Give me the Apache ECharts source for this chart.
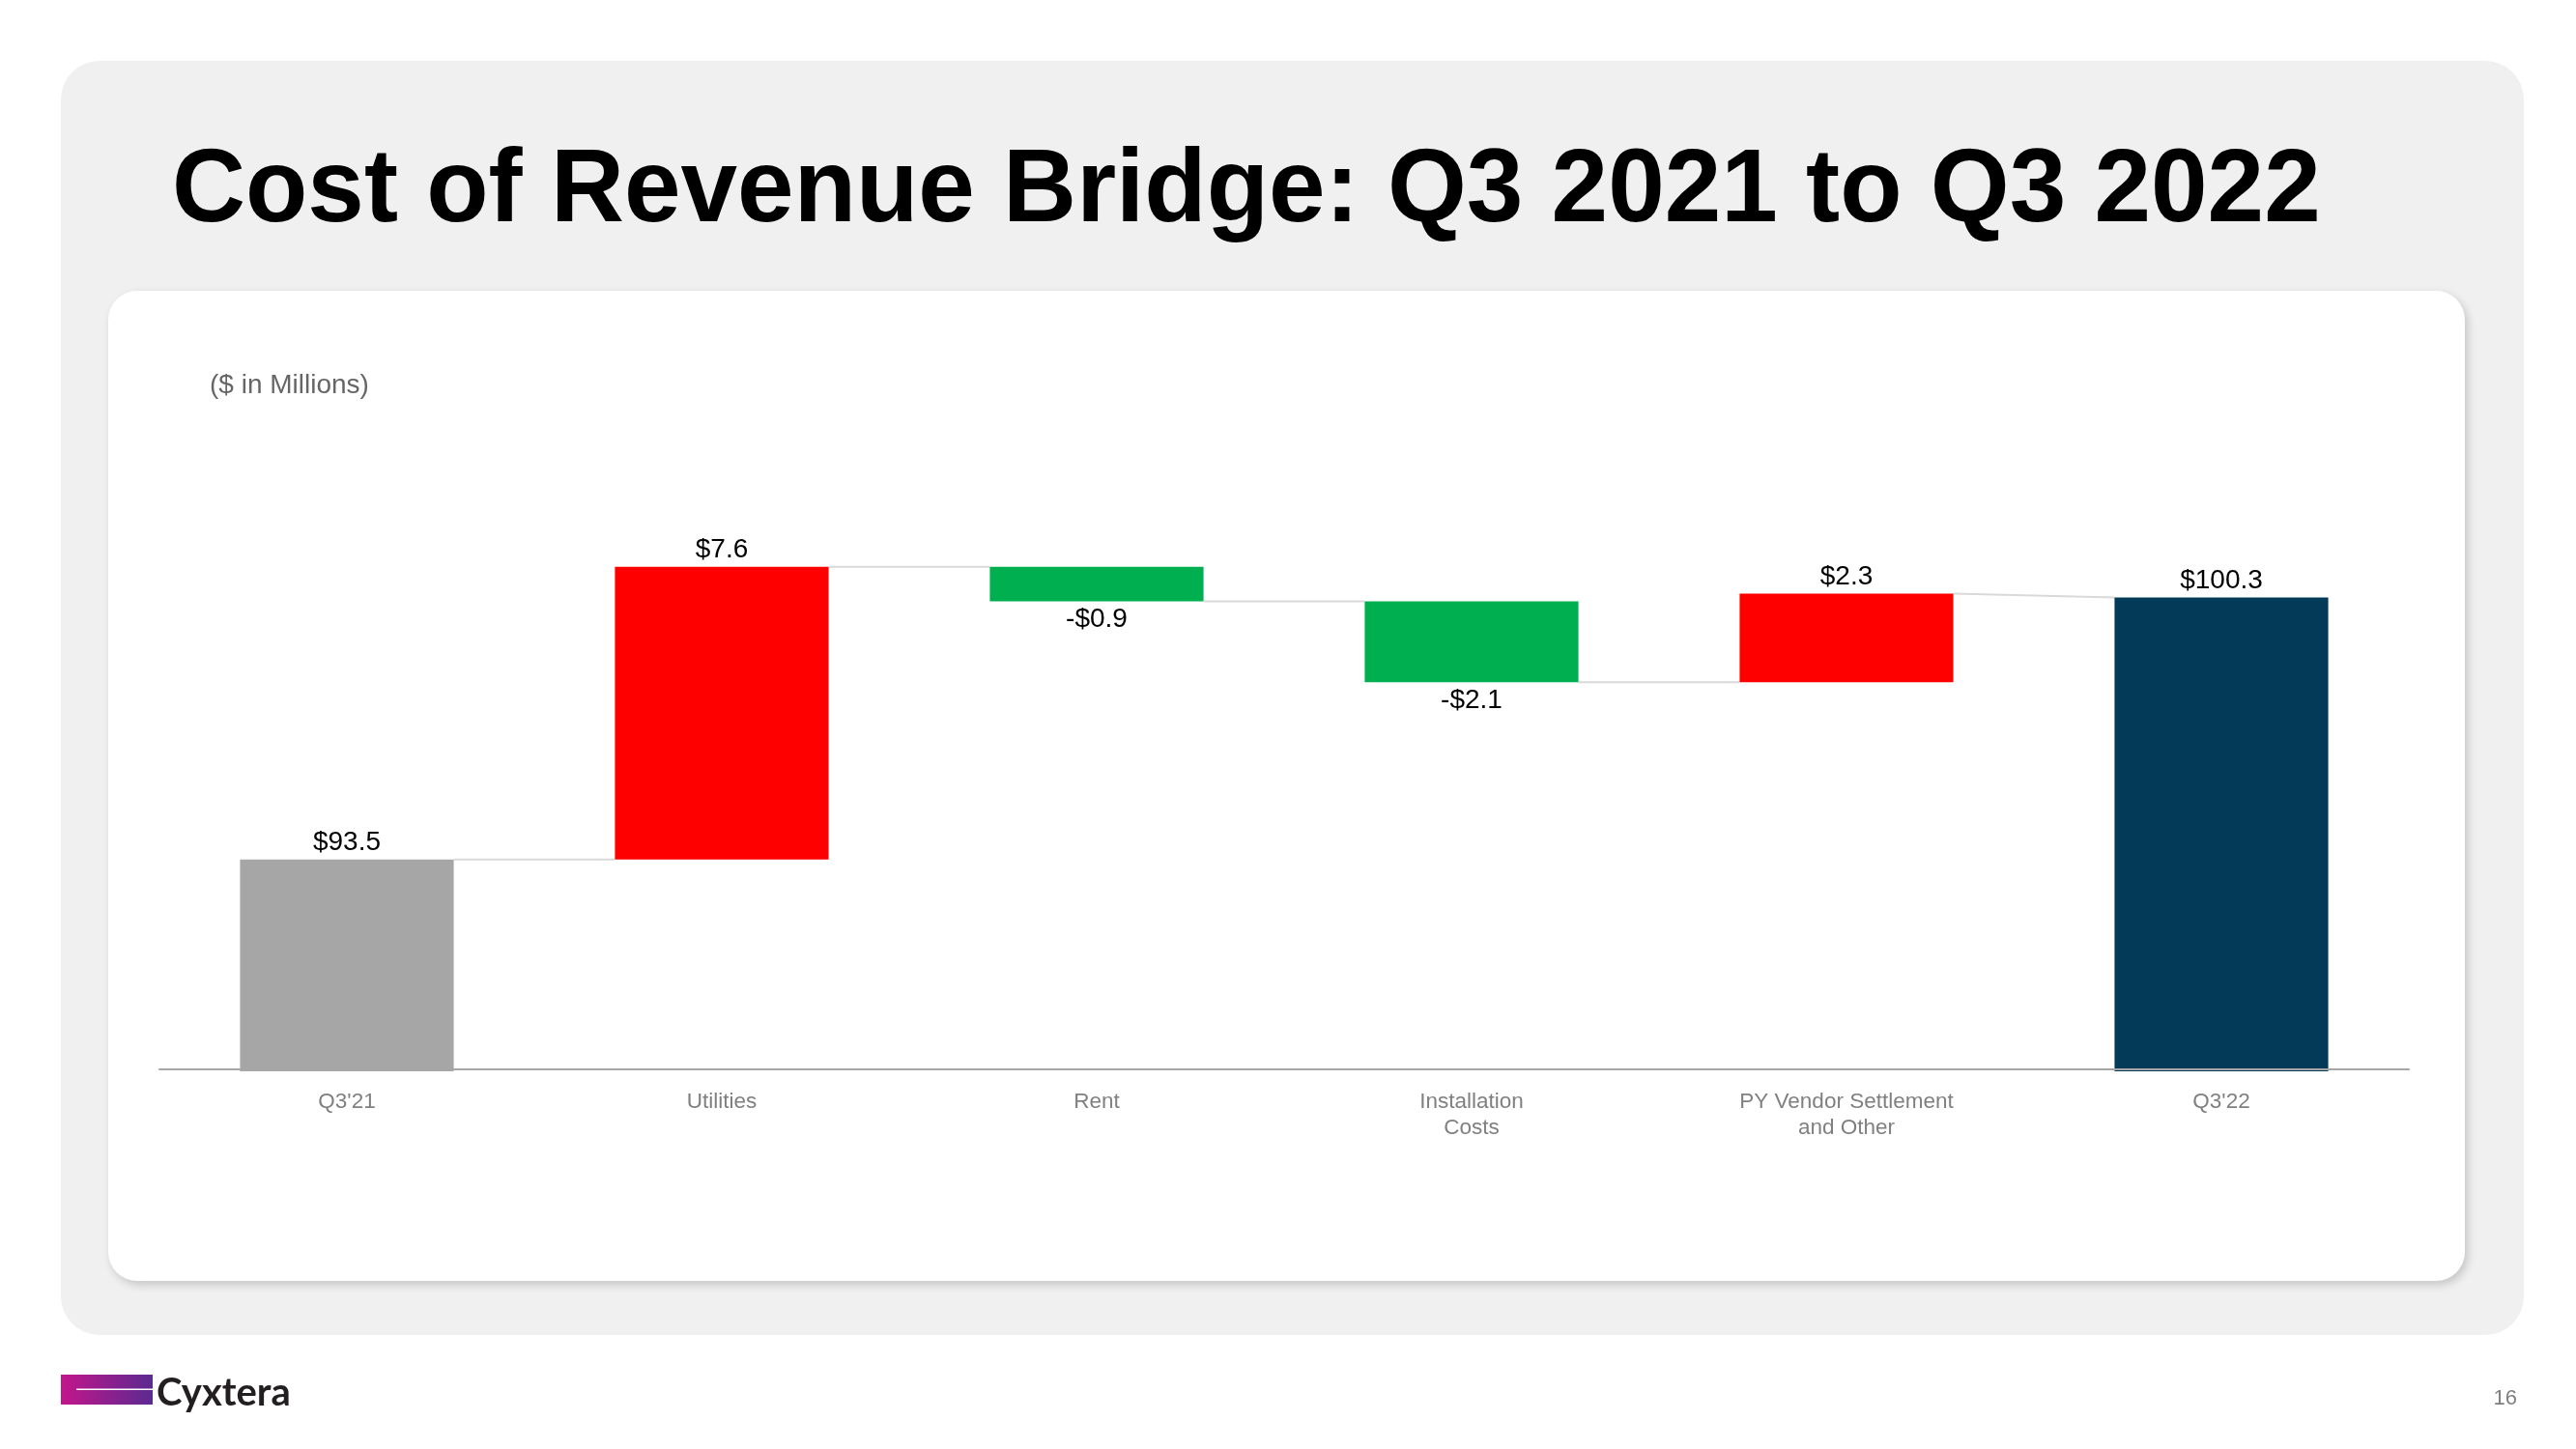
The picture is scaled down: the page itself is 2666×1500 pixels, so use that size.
<!DOCTYPE html>
<html>
<head>
<meta charset="utf-8">
<script src="https://cdn.jsdelivr.net/npm/echarts@6/dist/echarts.min.js"></script>
<style>
html,body{margin:0;padding:0;background:#fff;}
#chart{width:2666px;height:1500px;}
</style>
</head>
<body>
<div id="chart"></div>
<script>
// ---- data ----
var categories = ["Q3'21", "Utilities", "Rent", "Installation\nCosts", "PY Vendor Settlement\nand Other", "Q3'22"];
var values = [93.5, 7.6, -0.9, -2.1, 2.3, 100.3];
var kinds = ["total", "delta", "delta", "delta", "delta", "total"];
var titleText = "Cost of Revenue Bridge: Q3 2021 to Q3 2022";
var unitText = "($ in Millions)";
var pageNumber = "16";

// ---- styling ----
var Y_MIN = 88, Y_MAX = 104;
var BAR_RATIO = 0.57;
var COLORS = { total0: '#a6a6a6', totalEnd: '#033a57', up: '#ff0000', down: '#00b050' };
var FONT = '"Liberation Sans", Arial, sans-serif';

// build bar extents (running total)
var barData = [];
var running = 0;
for (var i = 0; i < values.length; i++) {
  var lo, hi, color;
  if (kinds[i] === 'total') {
    lo = Y_MIN; hi = values[i]; running = values[i];
    color = i === 0 ? COLORS.total0 : COLORS.totalEnd;
  } else {
    var start = running; running = +(running + values[i]).toFixed(4);
    lo = Math.min(start, running); hi = Math.max(start, running);
    color = values[i] >= 0 ? COLORS.up : COLORS.down;
  }
  barData.push([i, lo, hi, values[i], color]);
}
// connectors: end level of bar i -> start level of bar i+1
var connData = [];
running = 0;
var levels = [];
for (var j = 0; j < values.length; j++) {
  if (kinds[j] === 'total') { levels.push({ start: values[j], end: values[j] }); running = values[j]; }
  else { var s = running; running = +(running + values[j]).toFixed(4); levels.push({ start: s, end: running }); }
}
for (var k = 0; k < values.length - 1; k++) {
  connData.push([k, levels[k].end, levels[k + 1].start]);
}

function fmt(v) {
  return (v < 0 ? '-$' : '$') + Math.abs(v).toFixed(1);
}

var chart = echarts.init(document.getElementById('chart'), null, { renderer: 'canvas' });
var option = {
  backgroundColor: '#ffffff',
  animation: false,
  graphic: [
    { type: 'rect', z: -10, shape: { x: 63, y: 63, width: 2549, height: 1319, r: 40 }, style: { fill: '#f0f0f0' } },
    { type: 'rect', z: -9, shape: { x: 112, y: 301, width: 2439, height: 1025, r: 30 },
      style: { fill: '#ffffff', shadowBlur: 10, shadowColor: 'rgba(0,0,0,0.18)', shadowOffsetX: 3, shadowOffsetY: 4 } },
    { type: 'text', z: -8, x: 178, y: 199, scaleX: 0.975, style: { text: titleText, font: 'bold 108px ' + FONT, fill: '#000000', verticalAlign: 'middle', align: 'left' } },
    { type: 'text', z: -8, x: 217, y: 399, style: { text: unitText, font: '28px ' + FONT, fill: '#666666', verticalAlign: 'middle', align: 'left' } },
    { type: 'rect', z: -8, shape: { x: 63, y: 1423, width: 95, height: 31 },
      style: { fill: new echarts.graphic.LinearGradient(0, 0, 1, 0, [{ offset: 0, color: '#c2168b' }, { offset: 1, color: '#5b2a91' }]) } },
    { type: 'rect', z: -7, shape: { x: 79, y: 1437.5, width: 79, height: 1.5 }, style: { fill: '#ffffff' } },
    { type: 'text', z: -8, x: 162, y: 1462, style: { text: 'Cyxtera', font: 'bold 40px Lato, "Open Sans", sans-serif', fill: '#231f20', verticalAlign: 'bottom', align: 'left' } },
    { type: 'text', z: -8, x: 2605, y: 1448, style: { text: pageNumber, font: '22px ' + FONT, fill: '#808080', verticalAlign: 'middle', align: 'right' } }
  ],
  grid: { left: 165, right: 173, top: 471, bottom: 391 },
  xAxis: {
    type: 'category',
    data: categories,
    z: 5,
    offset: -2,
    axisLine: { show: true, lineStyle: { color: '#a6a6a6', width: 2 } },
    axisTick: { show: false },
    axisLabel: { color: '#808080', fontSize: 22.5, lineHeight: 27, margin: 20, fontFamily: FONT, interval: 0 },
    splitLine: { show: false }
  },
  yAxis: {
    type: 'value', min: Y_MIN, max: Y_MAX, show: false, splitLine: { show: false }
  },
  series: [
    {
      type: 'custom',
      name: 'connectors',
      z: 1,
      data: connData,
      renderItem: function (params, api) {
        var idx = api.value(0);
        var w = api.size([1, 0])[0] * BAR_RATIO;
        var a = api.coord([idx, api.value(1)]);
        var b = api.coord([idx + 1, api.value(2)]);
        return {
          type: 'line',
          shape: { x1: a[0] + w / 2, y1: a[1], x2: b[0] - w / 2, y2: b[1] },
          style: { stroke: '#d9d9d9', lineWidth: 2 }
        };
      }
    },
    {
      type: 'custom',
      name: 'bars',
      z: 2,
      data: barData,
      encode: { x: 0, y: [1, 2] },
      renderItem: function (params, api) {
        var idx = api.value(0);
        var lo = api.value(1), hi = api.value(2), v = api.value(3);
        var d = barData[params.dataIndex];
        var w = api.size([1, 0])[0] * BAR_RATIO;
        var pTop = api.coord([idx, hi]);
        var pBot = api.coord([idx, lo]);
        var below = v < 0;
        return {
          type: 'rect',
          shape: { x: pTop[0] - w / 2, y: pTop[1], width: w, height: pBot[1] - pTop[1] },
          style: { fill: d[4] },
          textContent: { style: { text: fmt(v), font: '28px ' + FONT, fill: '#000000' } },
          textConfig: { position: below ? 'bottom' : 'top', distance: below ? 5 : 3 }
        };
      }
    }
  ]
};
chart.setOption(option);
</script>
</body>
</html>
